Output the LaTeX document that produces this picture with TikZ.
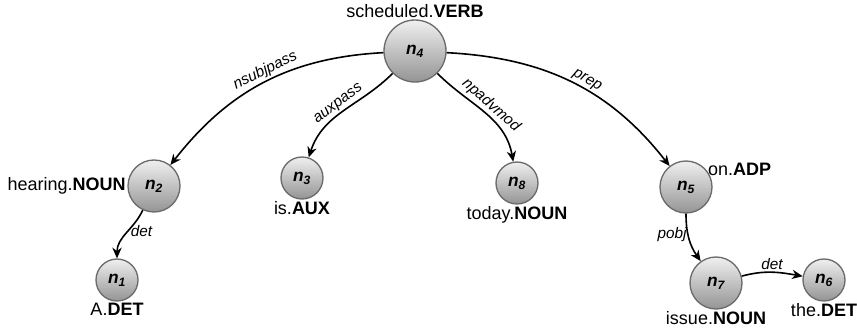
\documentclass[tikz,border=0pt]{standalone}
\usepackage{fontspec}
\setmainfont{Liberation Sans}
\usetikzlibrary{arrows.meta}

\tikzset{
  tok/.style={circle, draw=black!58, line width=1pt, top color=black!6, bottom color=black!42,
    inner sep=0pt, font=\fontsize{13}{15}\selectfont\bfseries\itshape},
  big/.style={tok, minimum size=46.5pt},
  mid/.style={tok, minimum size=39pt},
  small/.style={tok, minimum size=31.5pt},
  word/.style={font=\fontsize{13.5}{15}\selectfont, inner sep=1pt},
  dep/.style={-{Stealth[length=8pt,width=7pt]}, line width=1.2pt, black},
  rel/.style={font=\fontsize{11.5}{13}\selectfont\itshape, inner sep=1.5pt},
}
\newcommand{\nlbl}[1]{n\textsubscript{#1}}

\begin{document}
\begin{tikzpicture}[x=0.75pt, y=-0.75pt]
\useasboundingbox (0,0) rectangle (857,329);

% tokens
\node[big]   (n4) at (415,51)  {\nlbl{4}};
\node[mid]   (n2) at (154,186) {\nlbl{2}};
\node[small] (n1) at (117,280) {\nlbl{1}};
\node[small] (n3) at (302,178) {\nlbl{3}};
\node[small] (n8) at (517,183) {\nlbl{8}};
\node[mid]   (n5) at (686,187) {\nlbl{5}};
\node[mid]   (n7) at (716,283) {\nlbl{7}};
\node[small] (n6) at (824,280) {\nlbl{6}};

% word.POS captions
\node[word, anchor=south] (w4) at (n4.north) {scheduled.\textbf{VERB}};
\node[word, anchor=east]  (w2) at (n2.west)  {hearing.\textbf{NOUN}};
\node[word, anchor=north] (w1) at (n1.south) {A.\textbf{DET}};
\node[word, anchor=north] (w3) at (n3.south) {is.\textbf{AUX}};
\node[word, anchor=north] (w8) at (n8.south) {today.\textbf{NOUN}};
\node[word, anchor=west]  (w5) at (n5.40)    {on.\textbf{ADP}};
\node[word, anchor=north] (w7) at (n7.south) {issue.\textbf{NOUN}};
\node[word, anchor=north] (w6) at (n6.south) {the.\textbf{DET}};

% dependency arcs
\draw[dep] (n4) to[out=183, in=52]
  node[rel, pos=0.47, sloped, above] {nsubjpass} (n2);
\draw[dep] (n4) to[out=-135, in=72]
  node[rel, pos=0.5, sloped, above] {auxpass} (n3);
\draw[dep] (n4) to[out=-45, in=100]
  node[rel, pos=0.5, sloped, above] {npadvmod} (n8);
\draw[dep] (n4) to[out=-3, in=128]
  node[rel, pos=0.55, sloped, above] {prep} (n5);
\draw[dep] (n2) to[out=-115, in=90]
  node[rel, pos=0.45, right] {det} (n1);
\draw[dep] (n5) to[out=-90, in=125]
  node[rel, pos=0.4, left, inner sep=0.5pt] {pobj} (n7);
\draw[dep] (n7) to[out=15, in=170]
  node[rel, pos=0.5, above] {det} (n6);
\end{tikzpicture}
\end{document}
